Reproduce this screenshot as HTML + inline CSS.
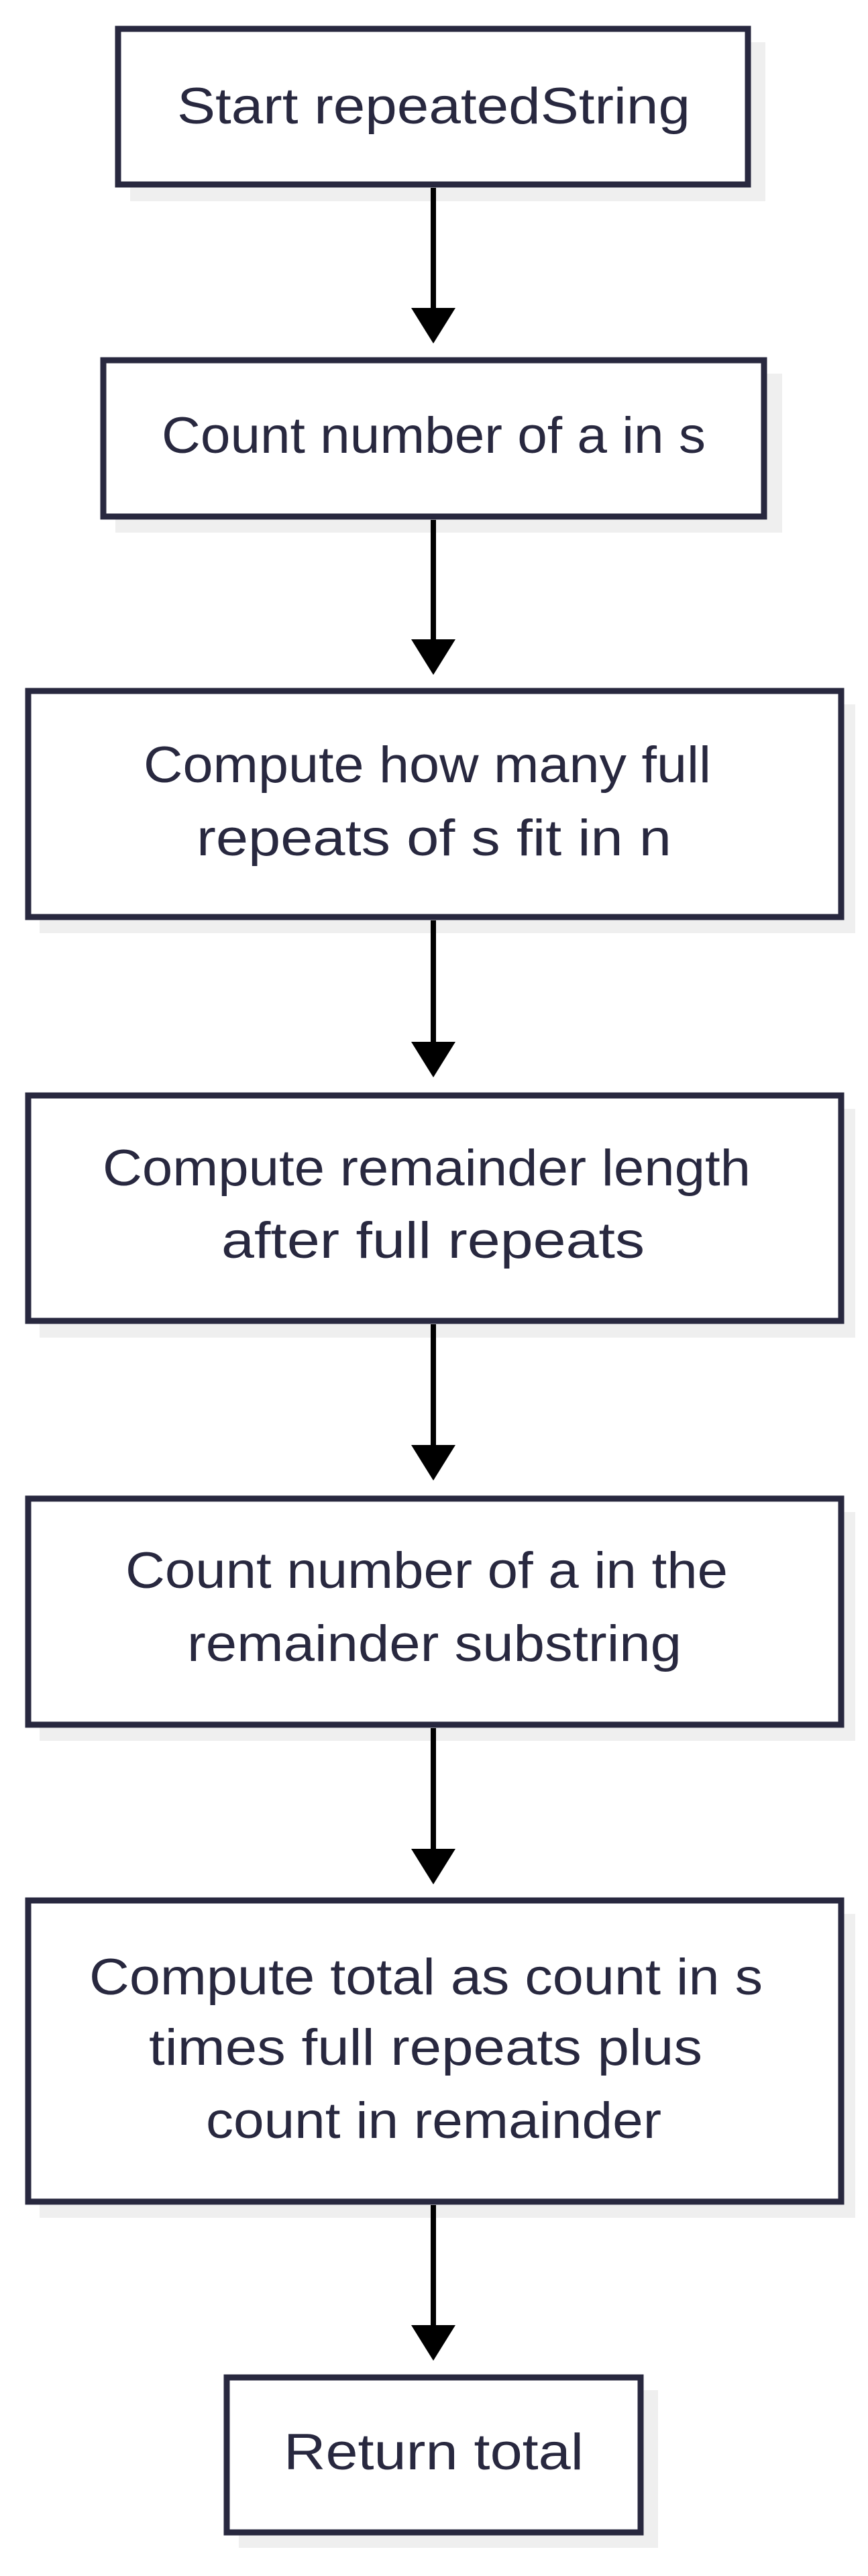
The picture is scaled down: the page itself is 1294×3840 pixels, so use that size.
<!DOCTYPE html>
<html><head><meta charset="utf-8"><style>
html,body{margin:0;padding:0;background:#fff;}
svg{display:block;}
text{font-family:"Liberation Sans",sans-serif;font-size:76px;fill:#28283f;}
</style></head><body>
<svg width="1294" height="3840" viewBox="0 0 1294 3840" xmlns="http://www.w3.org/2000/svg">
<g fill="#efefef">
<rect x="194" y="63" width="947" height="237"/>
<rect x="172" y="557" width="994" height="237"/>
<rect x="59" y="1050" width="1216" height="341"/>
<rect x="59" y="1653" width="1216" height="341"/>
<rect x="59" y="2254" width="1216" height="341"/>
<rect x="59" y="2853" width="1216" height="453"/>
<rect x="356" y="3563" width="625" height="235"/>
</g>
<g fill="#fff" stroke="#28283f" stroke-width="9">
<rect x="176" y="43" width="939" height="232"/>
<rect x="154" y="537" width="985" height="233"/>
<rect x="42" y="1030" width="1212" height="337"/>
<rect x="42" y="1633" width="1212" height="336"/>
<rect x="42" y="2234" width="1212" height="337"/>
<rect x="42" y="2833" width="1212" height="449"/>
<rect x="338" y="3544" width="617" height="231"/>
</g>
<g stroke="#000" stroke-width="8">
<line x1="646" y1="280" x2="646" y2="465"/>
<line x1="646" y1="775" x2="646" y2="960"/>
<line x1="646" y1="1372" x2="646" y2="1560"/>
<line x1="646" y1="1974" x2="646" y2="2160"/>
<line x1="646" y1="2576" x2="646" y2="2760"/>
<line x1="646" y1="3287" x2="646" y2="3470"/>
</g>
<g fill="#000">
<polygon points="613,459 679,459 646,512"/>
<polygon points="613,953 679,953 646,1006"/>
<polygon points="613,1553 679,1553 646,1606"/>
<polygon points="613,2154 679,2154 646,2207"/>
<polygon points="613,2756 679,2756 646,2809"/>
<polygon points="613,3466 679,3466 646,3519"/>
</g>
<text x="264" y="184" textLength="765" lengthAdjust="spacingAndGlyphs">Start repeatedString</text>
<text x="241" y="675" textLength="811" lengthAdjust="spacingAndGlyphs">Count number of a in s</text>
<text x="214" y="1166" textLength="846" lengthAdjust="spacingAndGlyphs">Compute how many full</text>
<text x="293" y="1275" textLength="708" lengthAdjust="spacingAndGlyphs">repeats of s fit in n</text>
<text x="153" y="1767" textLength="966" lengthAdjust="spacingAndGlyphs">Compute remainder length</text>
<text x="330" y="1875" textLength="631" lengthAdjust="spacingAndGlyphs">after full repeats</text>
<text x="187" y="2367" textLength="898" lengthAdjust="spacingAndGlyphs">Count number of a in the</text>
<text x="279" y="2476" textLength="737" lengthAdjust="spacingAndGlyphs">remainder substring</text>
<text x="133" y="2973" textLength="1004" lengthAdjust="spacingAndGlyphs">Compute total as count in s</text>
<text x="222" y="3078" textLength="825" lengthAdjust="spacingAndGlyphs">times full repeats plus</text>
<text x="307" y="3187" textLength="679" lengthAdjust="spacingAndGlyphs">count in remainder</text>
<text x="423" y="3681" textLength="447" lengthAdjust="spacingAndGlyphs">Return total</text>
</svg>
</body></html>
